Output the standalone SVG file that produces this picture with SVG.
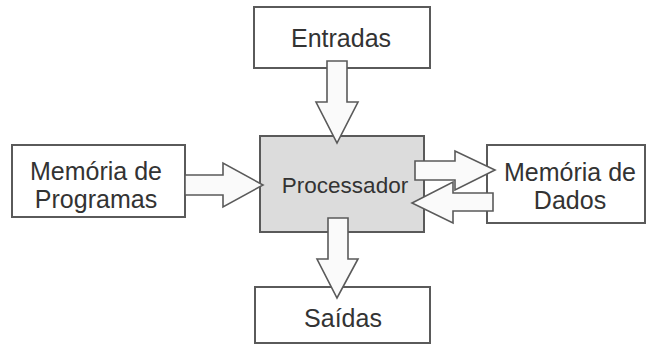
<svg xmlns="http://www.w3.org/2000/svg" width="649" height="347" viewBox="0 0 649 347">
<style>
.box{fill:#fff;stroke:#5a5a5a;stroke-width:2}
.proc{fill:#dcdcdc;stroke:#5a5a5a;stroke-width:2}
.arr{fill:#fafafa;stroke:#5a5a5a;stroke-width:1.6;stroke-linejoin:miter}
.t{font-family:"Liberation Sans",Arial,sans-serif;font-size:25px;fill:#333;text-anchor:middle}
.tp{font-family:"Liberation Sans",Arial,sans-serif;font-size:22.5px;fill:#333;text-anchor:middle}
</style>
<rect width="649" height="347" fill="#fff"/>
<g id="entradas"><rect class="box" x="254" y="7" width="176" height="61"/><text class="t" x="341" y="47">Entradas</text></g>
<g id="programas"><rect class="box" x="12" y="145" width="173" height="72"/><text class="t" x="96" y="180">Memória de</text><text class="t" x="96" y="208">Programas</text></g>
<g id="processador"><rect class="proc" x="260" y="136" width="164" height="96"/><text class="tp" x="345" y="193">Processador</text></g>
<g id="dados"><rect class="box" x="487" y="145" width="158" height="78"/><text class="t" x="570" y="181">Memória de</text><text class="t" x="570" y="209">Dados</text></g>
<g id="saidas"><rect class="box" x="255" y="287" width="175" height="56"/><text class="t" x="343" y="327">Saídas</text></g>
<g id="connectors">
<polygon class="arr" points="327,61 347,61 347,102 358,102 337,143 316,102 327,102"/>
<polygon class="arr" points="185,175 223,175 223,163 263,185 223,207 223,195 185,195"/>
<polygon class="arr" points="415,161 455,161 455,151 495,170 455,190 455,180 415,180"/>
<polygon class="arr" points="493,193 453,193 453,182 412,203 453,223 453,211 493,211"/>
<polygon class="arr" points="328,218 348,218 348,259 358,259 337,298 317,259 328,259"/>
</g>
</svg>
